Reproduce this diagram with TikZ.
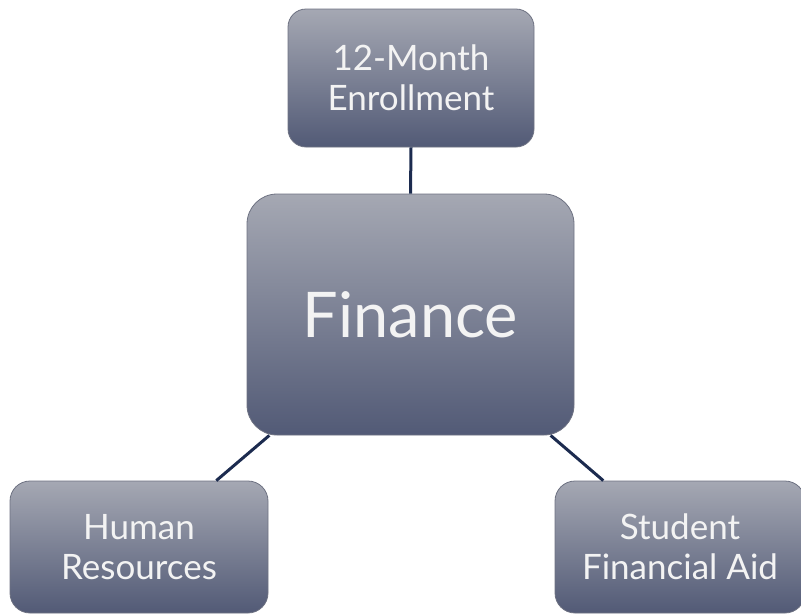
\documentclass[tikz,border=0pt]{standalone}
\usepackage{fontspec}
\setmainfont{Lato}
\usepackage{tikz}
\usepackage{xcolor}
\definecolor{boxtop}{HTML}{A5A8B3}
\definecolor{boxbot}{HTML}{525A76}
\definecolor{boxline}{HTML}{6E7282}
\definecolor{linkcol}{HTML}{1C2B4F}
\definecolor{boxtext}{HTML}{F3F3F3}
\begin{document}
\begin{tikzpicture}[x=1pt,y=-1pt,
    unitbox/.style={draw=boxline, line width=0.8pt, top color=boxtop, bottom color=boxbot,
      text=boxtext, align=center, inner sep=0pt, font=\fontsize{35}{40}\selectfont},
    link/.style={draw=linkcol, line width=3pt}]
    \useasboundingbox (0,0) rectangle (801,614);
    %%%%%%%%%%%%%%%%%%%%%%%%%%%%%%%%%%
    \node[unitbox, rounded corners=30pt, minimum width=327pt, minimum height=241pt,
      font=\fontsize{63}{70}\selectfont] (fin) at (410.5,314.5) {Finance};
    \node[unitbox, rounded corners=18pt, minimum width=246pt, minimum height=138pt] (enr) at (411,78) {12-Month\\Enrollment}; % haut
    \node[unitbox, rounded corners=20pt, minimum width=258pt, minimum height=132pt] (hr) at (139,547) {Human\\Resources}; % gauche
    \node[unitbox, rounded corners=20pt, minimum width=250pt, minimum height=132pt] (sfa) at (680,547) {Student\\Financial Aid}; % droite
    %%%%%%%%%%%%%%%%%%%%%%%%%%%%%%%%%%
    \draw[link] (fin.north) -- (enr.south);
    \draw[link] (fin) -- (hr);
    \draw[link] (fin) -- (sfa);
\end{tikzpicture}
\end{document}
